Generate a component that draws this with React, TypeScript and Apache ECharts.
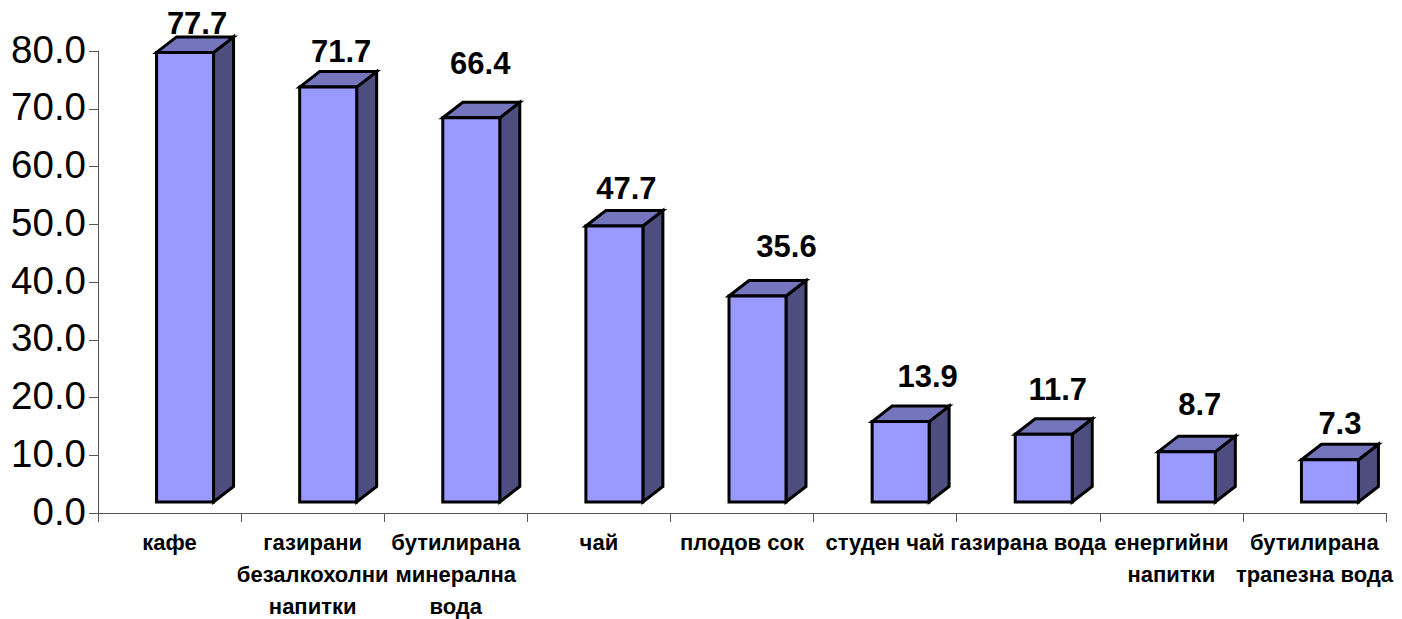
import React, { useEffect, useRef } from "react";
import * as echarts from "echarts";

const categories = [
  "кафе",
  "газирани\nбезалкохолни\nнапитки",
  "бутилирана\nминерална\nвода",
  "чай",
  "плодов сок",
  "студен чай",
  "газирана вода",
  "енергийни\nнапитки",
  "бутилирана\nтрапезна вода",
];
const values = [77.7, 71.7, 66.4, 47.7, 35.6, 13.9, 11.7, 8.7, 7.3];
const yTickMax = 80;
const yTickStep = 10;

// Manual label placement of the reference: centre relative to the bar's front-top-left corner region
const labelDx = [12, 13, 9, 12, 29, 27, 14, 13, 10];
const labelDy = [-29, -36, -54, -37, -49, -45, -45, -47, -36];

const FONT = '"Liberation Sans", Arial, sans-serif';
const BAR_W = 57;
const BAR_SHIFT = 15.5;
const DEPTH_X = 20;
const DEPTH_Y = 15.5;
const FLOOR_LIFT = 11;

function renderItem(params: any, api: any) {
  const i = api.value(0);
  const v = api.value(1);
  const top = api.coord([i, v]);
  const zero = api.coord([i, 0]);
  const cx = top[0] + BAR_SHIFT;
  const x0 = cx - BAR_W / 2;
  const x1 = cx + BAR_W / 2;
  const yB = zero[1] - FLOOR_LIFT;
  const yT = zero[1] + (top[1] - zero[1]) * 1.002 - FLOOR_LIFT;
  const stroke = { stroke: "#000", lineWidth: 3, lineJoin: "miter" };
  return {
    type: "group",
    children: [
      {
        type: "polygon",
        shape: { points: [[x1, yT], [x1 + DEPTH_X, yT - DEPTH_Y], [x1 + DEPTH_X, yB - DEPTH_Y], [x1, yB]] },
        style: { fill: "#4D4D80", ...stroke },
      },
      {
        type: "polygon",
        shape: { points: [[x0, yT], [x0 + DEPTH_X, yT - DEPTH_Y], [x1 + DEPTH_X, yT - DEPTH_Y], [x1, yT]] },
        style: { fill: "#7575BE", ...stroke },
      },
      {
        type: "rect",
        shape: { x: x0, y: yT, width: BAR_W, height: yB - yT },
        style: { fill: "#9999FF", ...stroke },
      },
      {
        type: "text",
        style: {
          text: v.toFixed(1),
          x: cx + labelDx[i],
          y: yT + labelDy[i],
          align: "center",
          verticalAlign: "middle",
          fill: "#000",
          font: `bold 31px ${FONT}`,
        },
      },
    ],
  };
}

export default function App() {
  const ref = useRef<HTMLDivElement>(null);
  useEffect(() => {
    const chart = echarts.init(ref.current!, null, { renderer: "svg" });
    const axisLine = { show: true, onZero: false, lineStyle: { color: "#555", width: 1 } };
    chart.setOption({
      animation: false,
      backgroundColor: "#fff",
      grid: { left: 98, right: 16, top: 51, bottom: 106, containLabel: false, outerBoundsMode: "none" },
      xAxis: {
        type: "category",
        data: categories,
        boundaryGap: true,
        axisLine,
        axisTick: { show: true, alignWithLabel: false, length: 9, lineStyle: { color: "#555", width: 1 } },
        axisLabel: {
          interval: 0,
          margin: 13,
          color: "#000",
          fontFamily: FONT,
          fontWeight: "bold",
          fontSize: 22,
          lineHeight: 32,
          hideOverlap: false,
        },
      },
      yAxis: {
        type: "value",
        min: 0,
        max: yTickMax,
        interval: yTickStep,
        axisLine,
        axisTick: { show: true, length: 9, lineStyle: { color: "#555", width: 1 } },
        splitLine: { show: false },
        axisLabel: {
          margin: 12,
          color: "#000",
          fontFamily: FONT,
          fontSize: 38.5,
          verticalAlign: "bottom",
          lineHeight: 4,
          formatter: (val: number) => val.toFixed(1),
        },
      },
      series: [
        {
          type: "custom",
          renderItem,
          clip: false,
          encode: { x: 0, y: 1 },
          data: values.map((v, i) => [i, v]),
        },
      ],
    });
    return () => chart.dispose();
  }, []);
  return <div ref={ref} style={{ position: "fixed", left: 0, top: 0, width: 1402, height: 619 }} />;
}
